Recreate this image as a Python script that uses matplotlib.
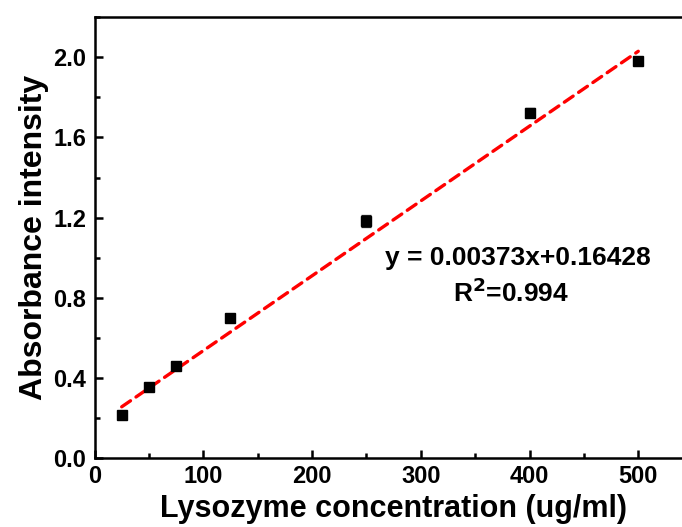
import matplotlib
matplotlib.use("Agg")
import matplotlib.pyplot as plt
from matplotlib.ticker import MultipleLocator
import numpy as np

plt.rcParams['font.family'] = ['Liberation Sans', 'DejaVu Sans']
plt.rcParams['font.weight'] = 'bold'
plt.rcParams['mathtext.default'] = 'bf'

concentration = [25, 50, 75, 125, 250, 400, 500]
absorbance = [0.215, 0.357, 0.462, 0.700, 1.183, 1.723, 1.982]
errors = [0.010, 0.012, 0.010, 0.020, 0.030, 0.022, 0.010]

slope = 0.00373
intercept = 0.16428
fit_x = [25, 500]
equation_text = "y = 0.00373x+0.16428"
r2_text = "R$^{2}$=0.994"

fig = plt.figure(figsize=(6.82, 5.27), dpi=100)
ax = fig.add_axes([0.1386, 0.130, 0.877, 0.8377])

fit_y = [slope * x + intercept for x in fit_x]
ax.plot(fit_x, fit_y, color='#ff0000', linestyle=(0, (3.2, 2.0)), linewidth=2.4,
        dash_capstyle='round', zorder=2)
ax.errorbar(concentration, absorbance, yerr=errors, fmt='s', color='black',
            markersize=7, ecolor='#222222', elinewidth=0.9, capsize=3.5, capthick=0.9, zorder=3)

ax.set_xlim(0, 550)
ax.set_ylim(0, 2.2)
ax.xaxis.set_major_locator(MultipleLocator(100))
ax.xaxis.set_minor_locator(MultipleLocator(50))
ax.yaxis.set_major_locator(MultipleLocator(0.4))
ax.yaxis.set_minor_locator(MultipleLocator(0.2))
ax.yaxis.set_major_formatter(matplotlib.ticker.FormatStrFormatter('%.1f'))

for s in ax.spines.values():
    s.set_linewidth(1.8)
ax.tick_params(which='both', direction='in', width=1.8, labelsize=17, top=False, right=False)
ax.tick_params(which='major', length=6)
ax.tick_params(which='minor', length=3.5)
ax.tick_params(axis='y', pad=6)
ax.tick_params(axis='x', pad=5)
for lbl in ax.get_xticklabels() + ax.get_yticklabels():
    lbl.set_fontweight('bold')

ax.set_xlabel("Lysozyme concentration (ug/ml)", fontsize=22, fontweight='bold', labelpad=4)
ax.set_ylabel("Absorbance intensity", fontsize=23, fontweight='bold', labelpad=3)

ax.text(389, 1.0, equation_text, fontsize=19, fontweight='bold', ha='center', va='center')
ax.text(383, 0.825, r2_text, fontsize=19, fontweight='bold', ha='center', va='center')

fig.savefig("out.png", dpi=100)
